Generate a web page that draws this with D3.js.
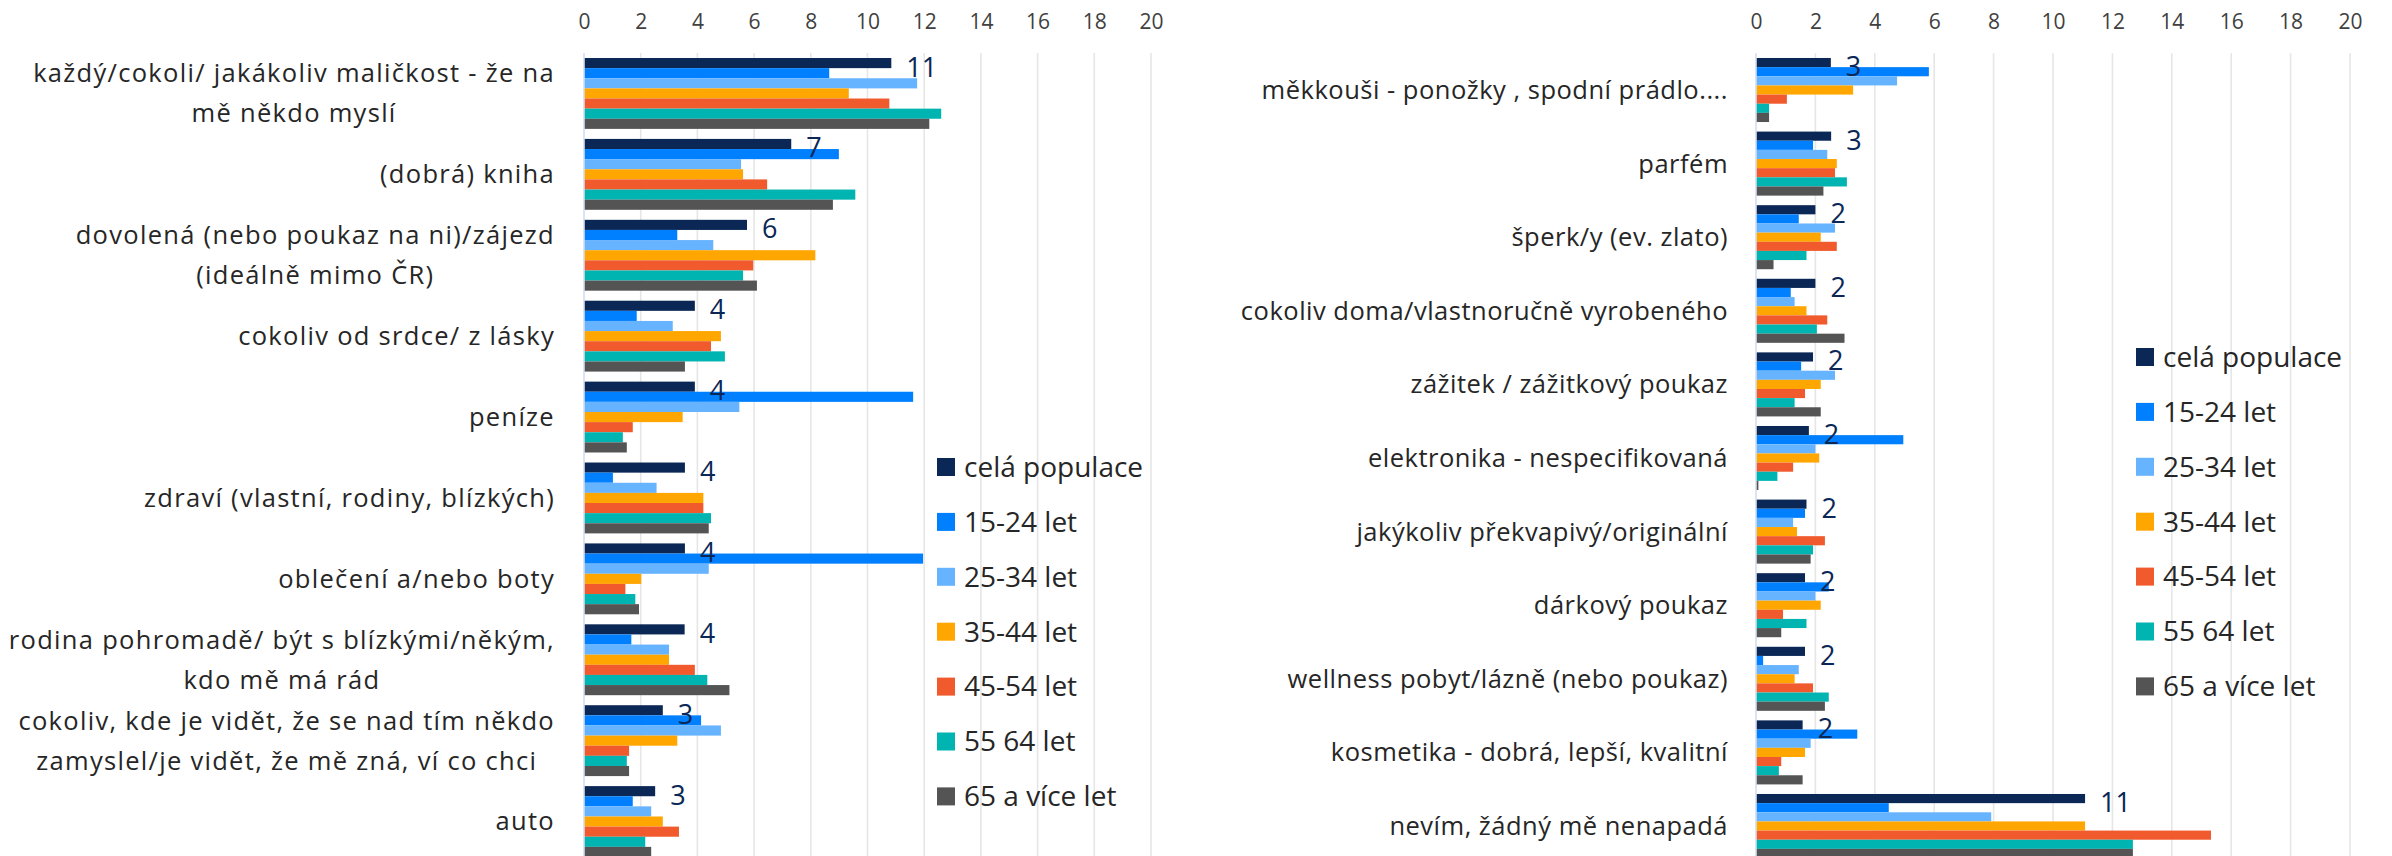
<!DOCTYPE html>
<html><head><meta charset="utf-8">
<script src="https://cdn.jsdelivr.net/npm/d3@7"></script>
<style>body{margin:0;background:#fff;} svg{display:block}</style>
</head><body>
<svg id="c" width="2392" height="856"></svg>
<script>
// ---- data ----
const seriesNames = ["celá populace","15-24 let","25-34 let","35-44 let","45-54 let","55 64 let","65 a více let"];
const seriesColors = ["#0B2756","#0080FF","#66B3FF","#FFA600","#F05A2C","#00B4B1","#545454"];
const tickValues = [0,2,4,6,8,10,12,14,16,18,20];

const leftCategories = [
  "každý/cokoli/ jakákoliv maličkost - že na\nmě někdo myslí",
  "(dobrá) kniha",
  "dovolená (nebo poukaz na ni)/zájezd\n(ideálně mimo ČR)",
  "cokoliv od srdce/ z lásky",
  "peníze",
  "zdraví (vlastní, rodiny, blízkých)",
  "oblečení a/nebo boty",
  "rodina pohromadě/ být s blízkými/někým,\nkdo mě má rád",
  "cokoliv, kde je vidět, že se nad tím někdo\nzamyslel/je vidět, že mě zná, ví co chci",
  "auto"
];
const leftCela  = [10.84, 7.31, 5.75, 3.91, 3.91, 3.56, 3.56, 3.55, 2.78, 2.51];
const left1524  = [8.65, 8.99, 3.29, 1.86, 11.61, 1.02, 11.96, 1.67, 4.13, 1.72];
const left2534  = [11.75, 5.54, 4.56, 3.13, 5.48, 2.56, 4.40, 3.00, 4.83, 2.37];
const left3544  = [9.34, 5.61, 8.16, 4.83, 3.48, 4.21, 2.02, 3.00, 3.29, 2.78];
const left4554  = [10.77, 6.46, 5.97, 4.48, 1.72, 4.21, 1.46, 3.91, 1.59, 3.35];
const left5564  = [12.60, 9.57, 5.61, 4.97, 1.37, 4.48, 1.81, 4.35, 1.51, 2.16];
const left65    = [12.18, 8.78, 6.10, 3.56, 1.51, 4.40, 1.94, 5.13, 1.59, 2.37];

const rightCategories = [
  "měkkouši - ponožky , spodní prádlo....",
  "parfém",
  "šperk/y (ev. zlato)",
  "cokoliv doma/vlastnoručně vyrobeného",
  "zážitek / zážitkový poukaz",
  "elektronika - nespecifikovaná",
  "jakýkoliv překvapivý/originální",
  "dárkový poukaz",
  "wellness pobyt/lázně (nebo poukaz)",
  "kosmetika - dobrá, lepší, kvalitní",
  "nevím, žádný mě nenapadá"
];
const rightCela = [2.52, 2.53, 2.00, 2.00, 1.92, 1.78, 1.70, 1.65, 1.65, 1.57, 11.08];
const right1524 = [5.82, 1.92, 1.44, 1.17, 1.52, 4.96, 1.65, 2.45, 0.24, 3.41, 4.47];
const right2534 = [4.75, 2.40, 2.66, 1.30, 2.66, 2.00, 1.25, 2.00, 1.44, 1.84, 7.92];
const right3544 = [3.27, 2.72, 2.18, 1.70, 2.18, 2.13, 1.38, 2.18, 1.30, 1.65, 11.08];
const right4554 = [1.04, 2.66, 2.72, 2.40, 1.65, 1.25, 2.32, 0.91, 1.92, 0.85, 15.32];
const right5564 = [0.44, 3.06, 1.70, 2.05, 1.30, 0.72, 1.92, 1.70, 2.45, 0.77, 12.69];
const right65   = [0.44, 2.27, 0.59, 2.98, 2.18, 0.08, 1.84, 0.85, 2.32, 1.57, 12.69];

// ---- drawing ----
const FONT = "'Open Sans', 'DejaVu Sans', sans-serif";
const svg = d3.select("#c");

function drawChart(cfg) {
  const g = svg.append("g");
  const x = d3.scaleLinear().domain([0, 20]).range([cfg.x0, cfg.x1]);
  const y = d3.scaleBand().domain(d3.range(cfg.categories.length)).range([cfg.yTop, cfg.yBot])
              .paddingInner(cfg.pad).paddingOuter(cfg.pad / 2);
  const ys = d3.scaleBand().domain(d3.range(seriesNames.length)).range([0, y.bandwidth()]);

  // gridlines
  g.append("g").selectAll("line").data(tickValues.filter(t => t > 0)).join("line")
    .attr("x1", d => x(d)).attr("x2", d => x(d))
    .attr("y1", cfg.yTop).attr("y2", 856)
    .attr("stroke", "#E6E6E6").attr("stroke-width", 1.6);

  // top axis with labels
  const axis = d3.axisTop(x).tickValues(tickValues).tickSize(0).tickPadding(0).tickFormat(d3.format("d"));
  const ag = g.append("g").attr("transform", `translate(0,${cfg.tickY})`).call(axis);
  ag.select(".domain").remove();
  ag.selectAll("text").attr("font-family", FONT).attr("font-size", 21).attr("fill", "#404040")
    .attr("dy", "0.35em");

  // bars
  const vals = cfg.values;
  const bars = [];
  cfg.categories.forEach((c, i) => vals.forEach((arr, s) => bars.push({i, s, v: arr[i]})));
  g.append("g").selectAll("rect").data(bars).join("rect")
    .attr("x", x(0)).attr("y", d => y(d.i) + ys(d.s))
    .attr("width", d => x(d.v) - x(0)).attr("height", ys.bandwidth())
    .attr("fill", d => seriesColors[d.s]);

  // axis line at 0
  g.append("line").attr("x1", x(0)).attr("x2", x(0)).attr("y1", cfg.yTop).attr("y2", 856)
    .attr("stroke", "#D5DEEE").attr("stroke-width", 1.6);

  // data labels (first series)
  g.append("g").selectAll("text").data(vals[0]).join("text")
    .attr("x", d => x(d) + 15)
    .attr("y", (d, i) => y(i) + ys(0) + ys.bandwidth() / 2 + 4)
    .attr("dy", "0.35em")
    .attr("font-family", FONT).attr("font-size", 27).attr("fill", "#0B2756")
    .text(d => d3.format(".0f")(d));

  // category labels
  const lg = g.append("g");
  const styleText = sel => sel.attr("font-family", FONT).attr("font-size", cfg.labelSize)
      .attr("letter-spacing", cfg.labelSpacing).attr("fill", "#262626");
  cfg.categories.forEach((c, i) => {
    const lines = c.split("\n");
    const cy = y(i) + y.bandwidth() / 2;
    const t = lg.append("text").call(styleText);
    if (lines.length === 1) {
      t.attr("x", cfg.labelRight).attr("y", cy).attr("dy", "0.35em").attr("text-anchor", "end").text(c);
    } else {
      const tmp = lg.append("text").call(styleText);
      let w = 0;
      lines.forEach(l => { tmp.text(l); w = Math.max(w, tmp.node().getComputedTextLength()); });
      tmp.remove();
      const cx = cfg.labelRight - w / 2;
      t.attr("text-anchor", "middle");
      lines.forEach((l, k) => {
        t.append("tspan").attr("x", cx)
          .attr("y", cy + (k - (lines.length - 1) / 2) * cfg.lineH)
          .attr("dy", "0.35em").text(l);
      });
    }
  });

  // legend
  const leg = g.append("g").selectAll("g").data(seriesNames).join("g")
    .attr("transform", (d, i) => `translate(${cfg.legX},${cfg.legY + i * cfg.legStep})`);
  leg.append("rect").attr("x", 0).attr("y", -9).attr("width", 18).attr("height", 18)
    .attr("fill", (d, i) => seriesColors[i]);
  leg.append("text").attr("x", 27).attr("y", 0).attr("dy", "0.35em")
    .attr("font-family", FONT).attr("font-size", 28).attr("fill", "#262626").text(d => d);
}

drawChart({
  categories: leftCategories,
  values: [leftCela, left1524, left2534, left3544, left4554, left5564, left65],
  x0: 584, x1: 1151, yTop: 53, yBot: 862, pad: 0.124, tickY: 22,
  labelRight: 555, labelSize: 25.5, labelSpacing: 1.3, lineH: 40,
  legX: 937, legY: 467, legStep: 54.9
});
drawChart({
  categories: rightCategories,
  values: [rightCela, right1524, right2534, right3544, right4554, right5564, right65],
  x0: 1756, x1: 2350, yTop: 53.2, yBot: 862.8, pad: 0.13, tickY: 22,
  labelRight: 1728, labelSize: 25.5, labelSpacing: 0.5, lineH: 40,
  legX: 2136, legY: 357, legStep: 54.9
});
</script>
</body></html>
